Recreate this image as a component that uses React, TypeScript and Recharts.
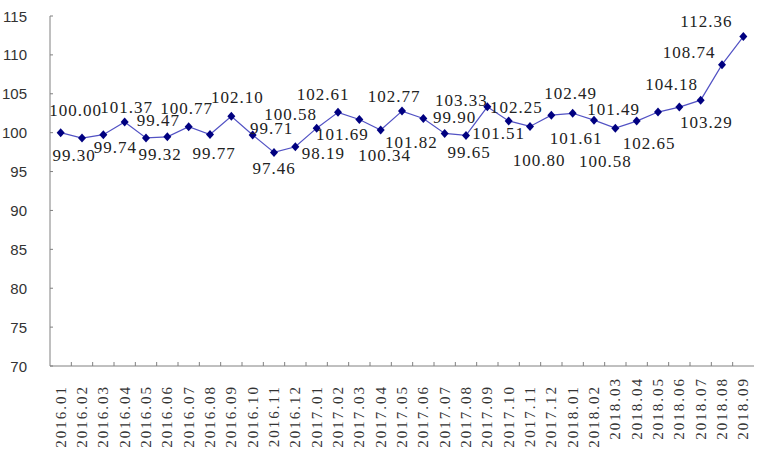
import React from 'react'
import { LineChart, Line, XAxis, YAxis, LabelList } from 'recharts'

document.body.style.margin = '0'

const MONTHS = [
  '2016.01', '2016.02', '2016.03', '2016.04', '2016.05', '2016.06', '2016.07', '2016.08', '2016.09', '2016.10', '2016.11', '2016.12',
  '2017.01', '2017.02', '2017.03', '2017.04', '2017.05', '2017.06', '2017.07', '2017.08', '2017.09', '2017.10', '2017.11', '2017.12',
  '2018.01', '2018.02', '2018.03', '2018.04', '2018.05', '2018.06', '2018.07', '2018.08', '2018.09',
]
const INDEX_VALUES = [
  100.0, 99.3, 99.74, 101.37, 99.32, 99.47, 100.77, 99.77, 102.1, 99.71, 97.46, 98.19,
  100.58, 102.61, 101.69, 100.34, 102.77, 101.82, 99.9, 99.65, 103.33, 101.51, 100.8, 102.25,
  102.49, 101.61, 100.58, 101.49, 102.65, 103.29, 104.18, 108.74, 112.36,
]
const Y_TICKS = [70, 75, 80, 85, 90, 95, 100, 105, 110, 115]

// label placement (dx, dy from the point), like the original's hand-dragged labels
const LABEL_OFFSETS: [number, number][] = [
  [15, -22], [-8, 17], [12, 13], [2, -15], [14, 17], [-9, -16], [-2, -18], [4, 19], [6, -19], [19, -6], [0, 16], [28, 7],
  [-26, -14], [-15, -18], [-17, 15], [4, 25], [-8, -15], [-12, 24], [10, -16], [3, 17], [-26, -6], [-10, 13], [9, 34], [-35, -8],
  [-2, -20], [-18, 18], [-10, 33], [-23, -12], [-9, 31], [27, 15], [-29, -16], [-33, -12], [-37, -15],
]

const data = MONTHS.map((m, i) => ({ month: m, value: INDEX_VALUES[i] }))

const W = 761
const H = 454
const LEFT = 50
const RIGHT = 7
const BAND = (W - LEFT - RIGHT) / MONTHS.length
const AXIS_GRAY = '#808080'

const YTick = ({ x, y, payload }: any) => (
  <g>
    <line x1={x} x2={x + 3} y1={y} y2={y} stroke={AXIS_GRAY} />
    <text x={x - 23} y={y} textAnchor="end" dominantBaseline="central"
      fontFamily="'Liberation Sans', Arial, sans-serif" fontSize={15} fill="#333">
      {payload.value}
    </text>
  </g>
)

const XTick = ({ x, y, payload, index }: any) => {
  const i = index ?? payload.index
  const top = y + (i >= 26 ? 11 : 19)
  return (
    <g>
      {i < MONTHS.length - 1 && (
        <line x1={x + BAND / 2} x2={x + BAND / 2} y1={y} y2={y - 4} stroke={AXIS_GRAY} />
      )}
      <text x={x} y={top} transform={`rotate(-90 ${x} ${top})`} textAnchor="end" dominantBaseline="central"
        fontFamily="'Liberation Serif', serif" fontSize={15} letterSpacing={2} fill="#333">
        {payload.value}
      </text>
    </g>
  )
}

const Diamond = ({ cx, cy, index }: any) => (
  <path key={index} d={`M${cx},${cy - 4.5}L${cx + 4},${cy}L${cx},${cy + 4.5}L${cx - 4},${cy}Z`} fill="#000080" />
)

const ValueLabel = ({ x, y, value, index }: any) => {
  const [dx, dy] = LABEL_OFFSETS[index] || [0, -15]
  return (
    <text x={x + dx} y={y + dy} textAnchor="middle" dominantBaseline="central"
      fontFamily="'Liberation Serif', serif" fontSize={17} letterSpacing={1} fill="#222">
      {Number(value).toFixed(2)}
    </text>
  )
}

export default function App() {
  return (
    <div style={{ width: W, height: H, background: '#fff' }}>
      <LineChart width={W} height={H} data={data} margin={{ top: 16, right: RIGHT, left: 0, bottom: 0 }}>
        <XAxis dataKey="month" height={88} padding={{ left: BAND / 2, right: BAND / 2 }}
          axisLine={{ stroke: AXIS_GRAY }} tickLine={false} tickSize={0} tickMargin={0}
          interval={0} tick={<XTick />} />
        <YAxis width={LEFT} domain={[70, 115]} ticks={Y_TICKS} axisLine={{ stroke: AXIS_GRAY }}
          tickLine={false} tickSize={0} tickMargin={0} tick={<YTick />} />
        <Line dataKey="value" stroke="#5252C4" strokeWidth={1.2} dot={<Diamond />} activeDot={false}
          isAnimationActive={false}>
          <LabelList dataKey="value" content={<ValueLabel />} />
        </Line>
      </LineChart>
    </div>
  )
}
